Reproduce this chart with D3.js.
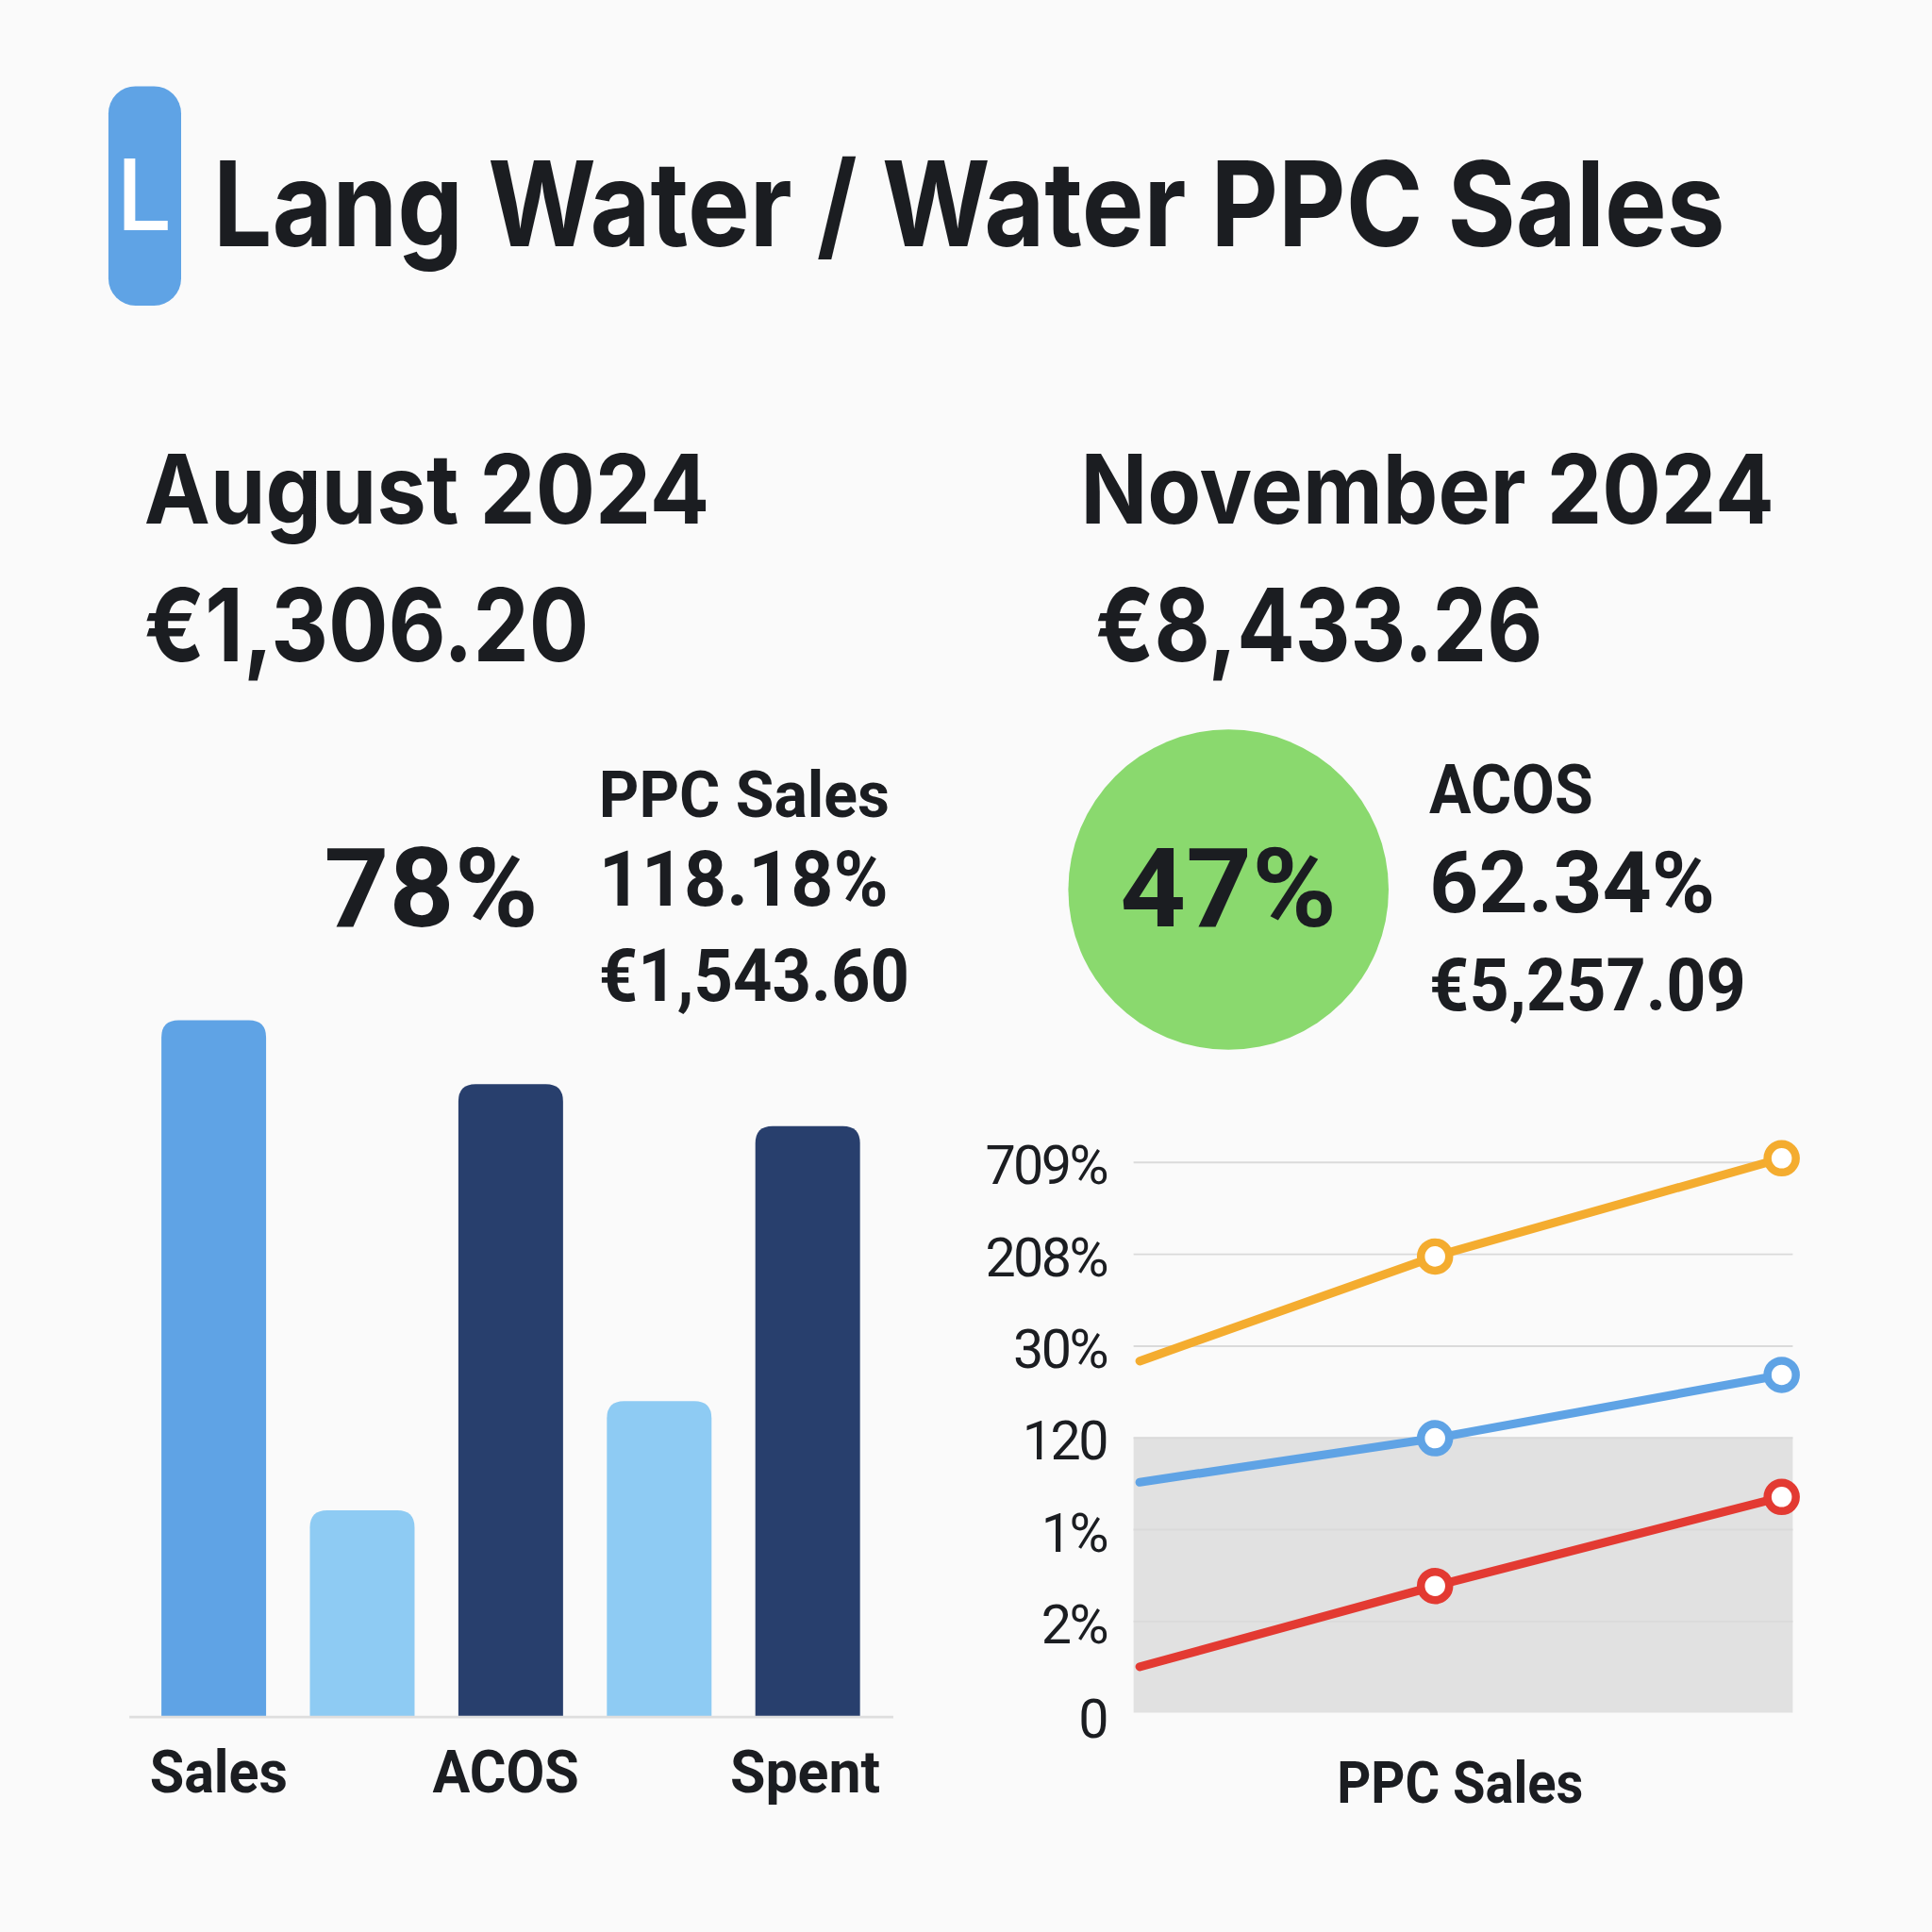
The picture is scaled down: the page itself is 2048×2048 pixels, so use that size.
<!DOCTYPE html>
<html lang="en">
<head>
    <meta charset="UTF-8">
    <title>Lang Water PPC Sales</title>
    <script src="https://d3js.org/d3.v7.min.js"></script>
    <style>
        body { margin: 0; background: #fafafa; }
        text { fill: #1b1d21; }
        .head { font-family: Inter, "Open Sans", sans-serif; font-weight: 700; }
        .stat { font-family: Roboto, "Liberation Sans", sans-serif; font-weight: 700; }
        .tick text { font-family: Roboto, sans-serif; font-weight: 400; }
    </style>
</head>
<body>
<div id="chart"></div>
<script>
    // ---- data ----
    var barCategories = ["Sales", "Sales PPC", "ACOS", "ACOS PPC", "Spent"];
    var barValues = [100, 29.6, 90.8, 45.3, 84.8];
    var barLabels = ["Sales", "", "ACOS", "", "Spent"];

    var lineTicks = ["0", "2%", "1%", "120", "30%", "208%", "709%"];
    var linePeriods = [0, 0.92, 2];
    var orangeSeries = [3.83, 4.97, 6.04];
    var blueSeries = [2.51, 2.99, 3.68];
    var redSeries = [0.50, 1.38, 2.35];

    var W = 1568; // drawn in the reference's own units, scaled to 2048 by viewBox

    var svg = d3.select("#chart")
        .append("svg")
        .attr("width", 2048)
        .attr("height", 2048)
        .attr("viewBox", "0 0 " + W + " " + W);

    svg.append("rect").attr("width", W).attr("height", W).attr("fill", "#fafafa");

    // logo + title
    svg.append("rect")
        .attr("x", 88).attr("y", 70).attr("width", 59).attr("height", 178)
        .attr("rx", 22).attr("fill", "#5fa3e5");
    svg.append("text")
        .attr("x", 117).attr("y", 187)
        .attr("text-anchor", "middle")
        .attr("class", "head")
        .style("font-size", "80px").style("font-weight", 500)
        .style("fill", "#fff")
        .text("L");
    svg.append("text")
        .attr("x", 173).attr("y", 200)
        .attr("class", "head")
        .attr("textLength", 1227).attr("lengthAdjust", "spacingAndGlyphs")
        .style("font-size", "96px")
        .text("Lang Water / Water PPC Sales");

    function label(x, y, size, cls, txt, len, anchor) {
        var t = svg.append("text")
            .attr("x", x).attr("y", y)
            .attr("class", cls)
            .style("font-size", size + "px")
            .attr("text-anchor", anchor || "start")
            .text(txt);
        if (len) t.attr("textLength", len).attr("lengthAdjust", "spacingAndGlyphs");
        return t;
    }
    // headers
    label(117, 425, 78, "head", "August 2024", 459);
    label(877, 425, 78, "head", "November 2024", 563);
    label(117, 537, 82, "head", "€1,306.20", 361);
    label(889, 537, 82, "head", "€8,433.26", 363);

    // KPIs left
    label(263, 752, 90, "stat", "78%", 174);
    label(486, 663, 53, "stat", "PPC Sales", 236);
    label(486, 735, 63, "stat", "118.18%", 235);
    label(486, 812, 59, "stat", "€1,543.60", 252);

    // KPIs right
    svg.append("circle")
        .attr("cx", 997).attr("cy", 722).attr("r", 130)
        .attr("fill", "#8ad96e");
    label(997, 752, 90, "stat", "47%", 176, "middle");
    label(1160, 660, 56, "stat", "ACOS", 133);
    label(1160, 740, 70, "stat", "62.34%", 232);
    label(1160, 820, 59, "stat", "€5,257.09", 257);

    // ---- bar chart ----
    var barBase = 1393, barTop = 828;
    var xb = d3.scaleBand().domain(barCategories).range([131, 698]).paddingInner(0.295).paddingOuter(0);
    var yb = d3.scaleLinear().domain([0, 100]).range([barBase, barTop]);
    var barColors = ["#5fa3e5", "#8ecbf3", "#283f6d", "#8ecbf3", "#283f6d"];

    function topRounded(x, y, w, h, r) {
        return "M" + x + "," + (y + h) +
            "V" + (y + r) +
            "Q" + x + "," + y + " " + (x + r) + "," + y +
            "H" + (x + w - r) +
            "Q" + (x + w) + "," + y + " " + (x + w) + "," + (y + r) +
            "V" + (y + h) + "Z";
    }

    svg.selectAll(".bar")
        .data(barValues)
        .enter().append("path")
        .attr("class", "bar")
        .attr("d", function(d, i) {
            var x = xb(barCategories[i]);
            return topRounded(x, yb(d), xb.bandwidth(), barBase - yb(d), 14);
        })
        .attr("fill", function(d, i) { return barColors[i]; });

    svg.append("line")
        .attr("x1", 105).attr("x2", 725)
        .attr("y1", barBase + 0.5).attr("y2", barBase + 0.5)
        .attr("stroke", "#dedede").attr("stroke-width", 2);

    var labelWidths = [112, 0, 119, 0, 122];
    var labelShift = [4, 0, -4, 0, -2];
    var shownLabels = barLabels
        .map(function(t, i) { return { text: t, i: i }; })
        .filter(function(d) { return d.text !== ""; });

    svg.selectAll(".barLabel")
        .data(shownLabels)
        .enter().append("text")
        .attr("class", "stat barLabel")
        .attr("x", function(d) { return xb(barCategories[d.i]) + xb.bandwidth() / 2 + labelShift[d.i]; })
        .attr("y", 1455)
        .attr("text-anchor", "middle")
        .style("font-size", "48px")
        .attr("textLength", function(d) { return labelWidths[d.i]; })
        .attr("lengthAdjust", "spacingAndGlyphs")
        .text(function(d) { return d.text; });

    // ---- line chart ----
    var xl = d3.scaleLinear().domain([0, 2]).range([925, 1446]);
    var yl = d3.scaleLinear().domain([0, 6]).range([1390, 943]);

    svg.append("rect")
        .attr("x", 920).attr("width", 535)
        .attr("y", yl(3)).attr("height", yl(0) - yl(3))
        .attr("fill", "#e1e1e1");

    var yAxis = svg.append("g")
        .attr("transform", "translate(920,0)")
        .call(d3.axisLeft(yl)
            .tickValues(d3.range(lineTicks.length))
            .tickFormat(function(d) { return lineTicks[d]; })
            .tickSize(-535)
            .tickPadding(22));
    yAxis.select(".domain").remove();
    yAxis.selectAll(".tick line")
        .attr("stroke", function(d) { return d === 0 ? "none" : "#dadada"; })
        .attr("stroke-width", 1.5);
    yAxis.selectAll(".tick text")
        .style("font-size", "44px")
        .style("letter-spacing", "-2px")
        .style("fill", "#1b1d21")
        .attr("dy", function(d) { return d === 0 ? "0.45em" : "0.4em"; });

    var line = d3.line()
        .x(function(d, i) { return xl(linePeriods[i]); })
        .y(function(d) { return yl(d); });

    var series = [
        { values: orangeSeries, color: "#f4ac2f" },
        { values: blueSeries, color: "#5fa3e5" },
        { values: redSeries, color: "#e33a32" }
    ];

    series.forEach(function(s) {
        svg.append("path")
            .datum(s.values)
            .attr("d", line)
            .attr("fill", "none")
            .attr("stroke", s.color)
            .attr("stroke-width", 7)
            .attr("stroke-linecap", "round");
        svg.selectAll(null)
            .data(s.values.slice(1))
            .enter().append("circle")
            .attr("cx", function(d, i) { return xl(linePeriods[i + 1]); })
            .attr("cy", function(d) { return yl(d); })
            .attr("r", 11.5)
            .attr("fill", "#fff")
            .attr("stroke", s.color)
            .attr("stroke-width", 6.5);
    });

    svg.append("text")
        .attr("class", "stat")
        .attr("x", 1185).attr("y", 1463)
        .attr("text-anchor", "middle")
        .style("font-size", "47px")
        .attr("textLength", 200).attr("lengthAdjust", "spacingAndGlyphs")
        .text("PPC Sales");
</script>
</body>
</html>
